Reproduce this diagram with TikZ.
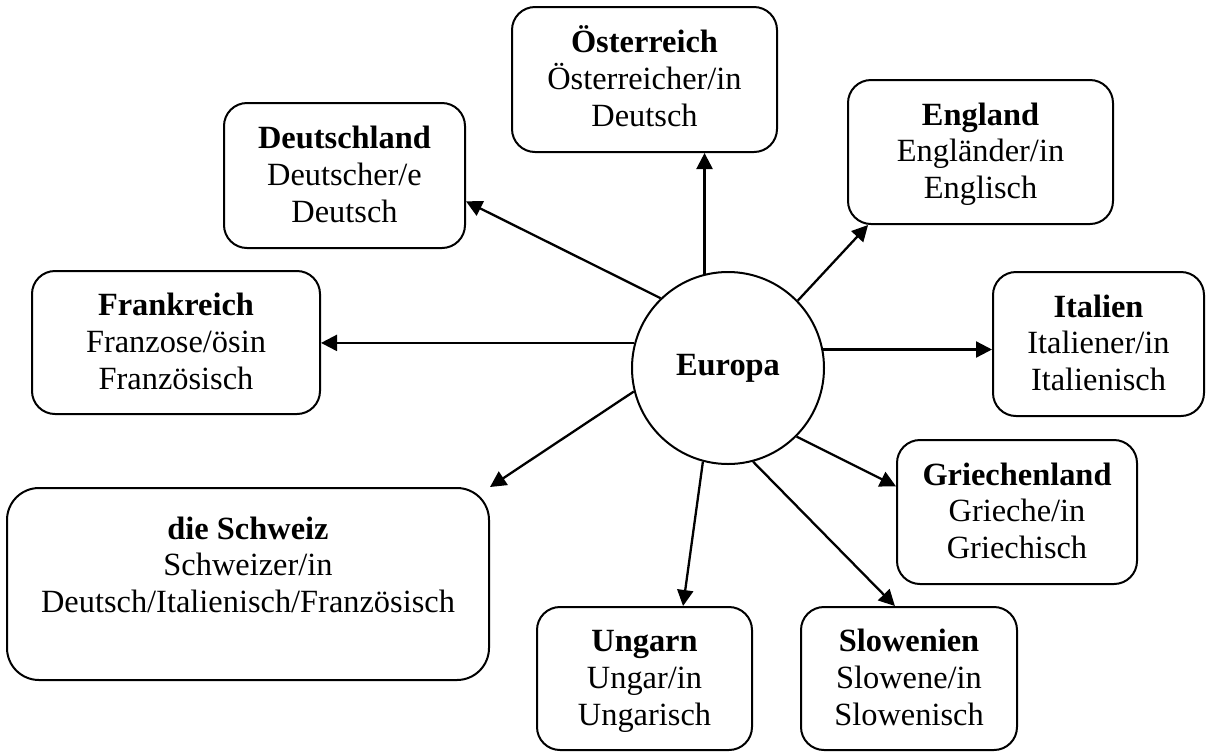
\documentclass[tikz,border=0pt]{standalone}
\usepackage{fontspec}
\setmainfont{Liberation Serif}
\usetikzlibrary{arrows.meta}
\newcommand{\firstln}[1]{\textbf{\vphantom{Ög}#1}}
\newcommand{\lastln}[1]{#1\vphantom{g}}
\begin{document}
\begin{tikzpicture}[x=0.5pt,y=-0.5pt,
  txt/.style={font={\fontsize{16.2pt}{18.3pt}\selectfont\lineskiplimit=-20pt}},
  box/.style={txt,draw,line width=1pt,rounded corners=11.5pt,align=center,inner sep=0pt},
  hub/.style={txt,draw,circle,line width=1pt,minimum size=96pt,inner sep=0pt,font={\fontsize{16.2pt}{18.3pt}\selectfont\bfseries}},
  arr/.style={line width=1.15pt,-{Triangle[length=8pt,width=8pt]}}]
\useasboundingbox (0,0) rectangle (1206,751);
\node[hub] (eu) at (728,368) {Europa};
\node[box,minimum width=132.5pt,minimum height=72.5pt] (oe) at (644.5,79.5) {\firstln{Österreich}\\Österreicher/in\\\lastln{Deutsch}};
\node[box,minimum width=120.5pt,minimum height=72.5pt] (de) at (344.5,175.5) {\firstln{Deutschland}\\Deutscher/e\\\lastln{Deutsch}};
\node[box,minimum width=132.5pt,minimum height=72pt] (en) at (980.5,152) {\firstln{England}\\Engländer/in\\\lastln{Englisch}};
\node[box,minimum width=144pt,minimum height=71.5pt] (fr) at (176,342.5) {\firstln{Frankreich}\\Franzose/ösin\\\lastln{Französisch}};
\node[box,minimum width=105.5pt,minimum height=72pt] (it) at (1098.5,344) {\firstln{Italien}\\Italiener/in\\\lastln{Italienisch}};
\node[box,minimum width=120pt,minimum height=72pt] (gr) at (1017,512) {\firstln{Griechenland}\\Grieche/in\\\lastln{Griechisch}};
\node[box,rounded corners=16pt,minimum width=241pt,minimum height=96pt] (ch) at (248,584) {\firstln{die Schweiz}\\Schweizer/in\\Deutsch/Italienisch/Französisch\\\lastln{}};
\node[box,minimum width=107.5pt,minimum height=71.5pt] (un) at (644.5,678.5) {\firstln{Ungarn}\\Ungar/in\\\lastln{Ungarisch}};
\node[box,minimum width=108pt,minimum height=71.5pt] (sl) at (909,678.5) {\firstln{Slowenien}\\Slowene/in\\\lastln{Slowenisch}};
\draw[arr] (eu.104.5) -- (eu.104.5 |- oe.south);
\draw[arr] (eu.134.6) -- (de.-12.9);
\draw[arr] (eu.44.6) -- (en.213.6);
\draw[arr] (eu.165.5) -- (eu.165.5 -| fr.east);
\draw[arr] (eu.11.4) -- (eu.11.4 -| it.west);
\draw[arr] (eu.-45) -- (gr.168.2);
\draw[arr] (eu.194.2) -- (ch.north east);
\draw[arr] (eu.255.8) -- (un.62.3);
\draw[arr] (eu.-75.8) -- (sl.101.1);
\end{tikzpicture}
\end{document}
